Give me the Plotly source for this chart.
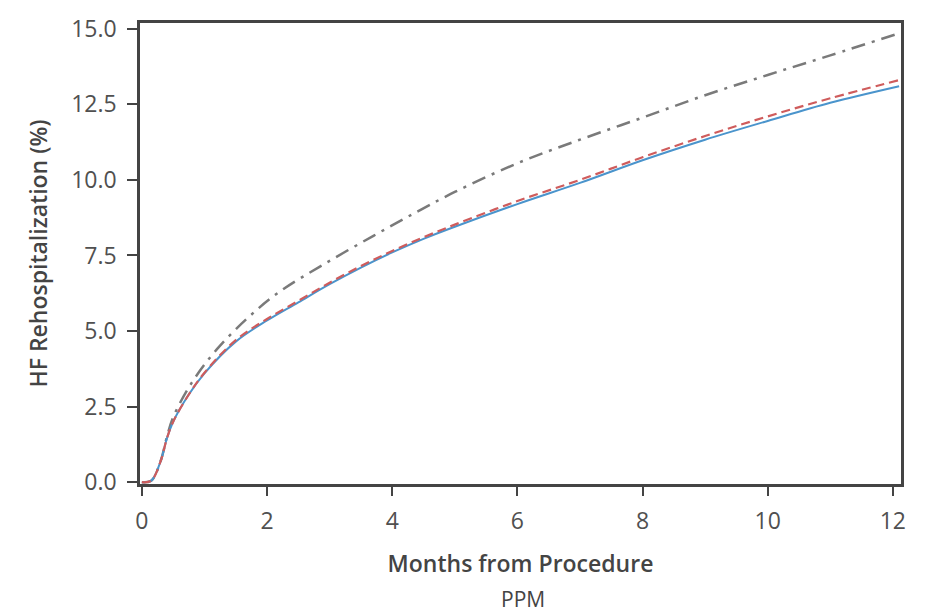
import plotly.graph_objects as go

# Cumulative incidence of heart-failure rehospitalization (%), by month
months_a = [0, 0.15, 0.3, 0.4, 0.5, 0.75, 1.0, 1.5, 2.0, 2.5, 3.0, 3.5, 4.0, 4.5,
            5.0, 6.0, 7.0, 8.0, 9.0, 10.0, 11.0, 12.1]
solid_blue = [0, 0.05, 0.7, 1.45, 2.0, 2.9, 3.6, 4.65, 5.35, 5.95, 6.55, 7.1, 7.6, 8.05,
              8.45, 9.2, 9.9, 10.65, 11.33, 11.95, 12.55, 13.1]
dashed_red = [0, 0.05, 0.7, 1.45, 2.0, 2.9, 3.62, 4.7, 5.4, 6.0, 6.6, 7.15, 7.65, 8.1,
              8.52, 9.3, 10.0, 10.75, 11.45, 12.1, 12.7, 13.3]

months_b = [0, 0.15, 0.3, 0.4, 0.5, 0.8, 1.2, 1.7, 2.2, 2.9, 3.7, 4.4, 5.0, 6.0,
            7.0, 8.0, 9.0, 10.0, 11.0, 12.1]
dashdot_gray = [0, 0.05, 0.7, 1.5, 2.15, 3.3, 4.4, 5.45, 6.3, 7.2, 8.15, 8.95, 9.6,
                10.55, 11.33, 12.06, 12.8, 13.47, 14.12, 14.85]

x_ticks = [0, 2, 4, 6, 8, 10, 12]
y_ticks = [0.0, 2.5, 5.0, 7.5, 10.0, 12.5, 15.0]
y_tick_text = ["0.0", "2.5", "5.0", "7.5", "10.0", "12.5", "15.0"]

fig = go.Figure()
fig.add_trace(go.Scatter(x=months_b, y=dashdot_gray, mode="lines", line_shape="spline",
                         line=dict(color="#7a7a7a", width=2.5, dash="14px,7px,3px,7px")))
fig.add_trace(go.Scatter(x=months_a, y=solid_blue, mode="lines", line_shape="spline",
                         line=dict(color="#4a94cc", width=2)))
fig.add_trace(go.Scatter(x=months_a, y=dashed_red, mode="lines", line_shape="spline",
                         line=dict(color="#cf5c5c", width=2.2, dash="9px,5px")))

axis_font = dict(family="Open Sans, Noto Sans, sans-serif", size=23, color="#505050")
title_font = dict(family="Open Sans, sans-serif", size=23, color="#444", weight=600)
fig.update_layout(
    width=933, height=613,
    margin=dict(l=140, r=32, t=13, b=129),
    paper_bgcolor="white", plot_bgcolor="white",
    showlegend=False,
    xaxis=dict(range=[-0.03, 12.13], tickvals=x_ticks, ticks="outside", ticklen=9,
               tickwidth=2, tickcolor="#444", showline=True, linecolor="#444", linewidth=2.5,
               mirror=True, showgrid=False, zeroline=False, tickfont=axis_font,
               ticklabelstandoff=6,
               title=dict(text="Months from Procedure", standoff=21, font=title_font)),
    yaxis=dict(range=[-0.06, 15.19], tickvals=y_ticks, ticktext=y_tick_text, ticks="outside",
               ticklen=10, tickwidth=2, tickcolor="#444", showline=True, linecolor="#444",
               linewidth=2.5, mirror=True, showgrid=False, zeroline=False, tickfont=axis_font,
               ticklabelstandoff=6,
               title=dict(text="HF Rehospitalization (%)", standoff=18, font=title_font)),
)
fig.add_annotation(text="PPM", xref="paper", yref="paper", x=0.503, y=-0.215, yanchor="top",
                   xanchor="center", showarrow=False,
                   font=dict(family="Open Sans, sans-serif", size=21, color="#444"))

fig.write_html("out.html")
